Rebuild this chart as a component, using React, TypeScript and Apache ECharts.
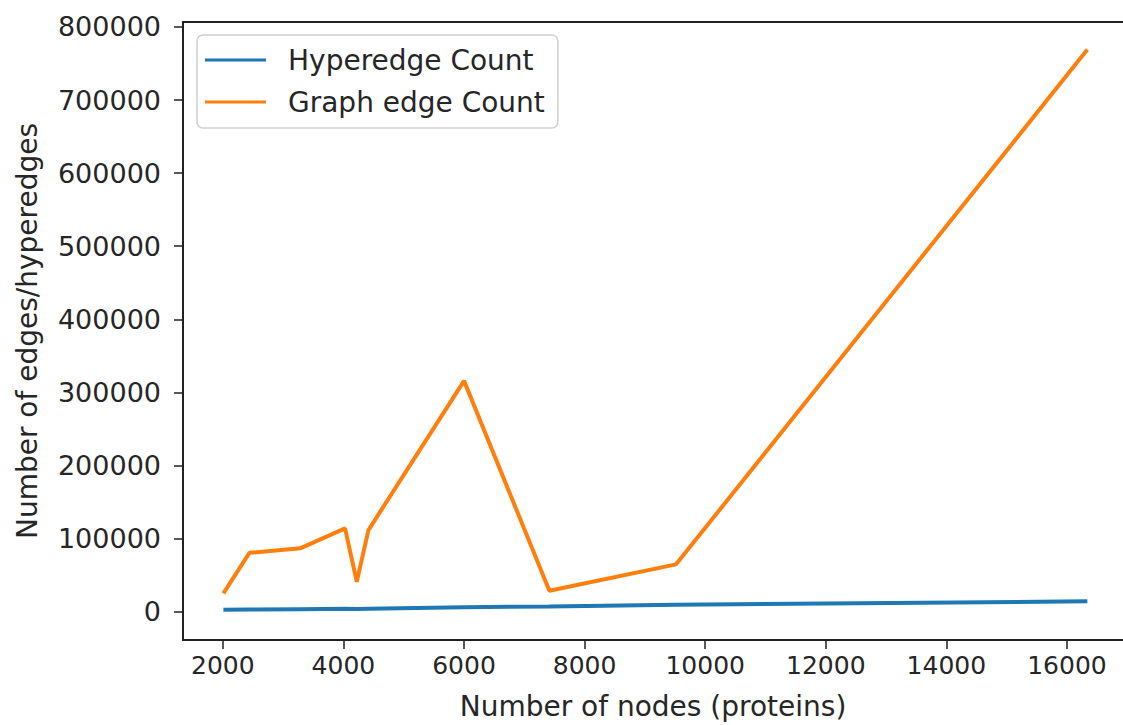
import React, { useEffect, useRef } from "react";
import * as echarts from "echarts";

const nodeCounts = [2010, 2441, 3282, 4028, 4222, 4415, 6001, 7416, 9517, 16338];
const hyperedgeCounts = [2500, 2900, 3300, 3700, 3500, 4000, 6000, 7000, 9500, 14000];
const graphEdgeCounts = [25000, 80400, 86500, 113800, 40800, 111500, 315700, 28500, 64600, 769000];
const xTicks = [2000, 4000, 6000, 8000, 10000, 12000, 14000, 16000];
const yTicks = [0, 100000, 200000, 300000, 400000, 500000, 600000, 700000, 800000];

const FONT = "DejaVu Sans";
const TEXT = "#262626";

export default function App() {
  const ref = useRef<HTMLDivElement>(null);
  useEffect(() => {
    if (!ref.current) return;
    const chart = echarts.init(ref.current, undefined, { renderer: "svg" });
    const pair = (ys: number[]) => nodeCounts.map((x, i) => [x, ys[i]]);
    chart.setOption({
      animation: false,
      backgroundColor: "#ffffff",
      textStyle: { fontFamily: FONT, color: TEXT },
      grid: { left: 183, right: 0, top: 22, bottom: 85, outerBoundsMode: "none", containLabel: false },
      legend: {
        orient: "vertical",
        left: 197,
        top: 35,
        padding: [11, 13, 12, 8],
        itemGap: 14,
        itemWidth: 61,
        itemHeight: 3,
        icon: "rect",
        backgroundColor: "rgba(255,255,255,0.8)",
        borderColor: "#d0d0d0",
        borderWidth: 1.5,
        borderRadius: 6,
        textStyle: { fontFamily: FONT, fontSize: 28, color: TEXT, padding: [0, 0, 0, 17] },
        data: ["Hyperedge Count", "Graph edge Count"],
      },
      xAxis: [
        {
          type: "value",
          min: 1340,
          max: 16929,
          name: "Number of nodes (proteins)",
          nameLocation: "middle",
          nameGap: 52,
          nameTextStyle: { fontFamily: FONT, fontSize: 28, color: TEXT },
          axisLine: { show: true, onZero: false, lineStyle: { color: "#222", width: 2 } },
          axisTick: { show: true, inside: false, length: 9, lineStyle: { color: "#222", width: 1.5 }, customValues: xTicks },
          axisLabel: { fontFamily: FONT, fontSize: 25, color: TEXT, margin: 13, customValues: xTicks, formatter: (v: number) => String(v) },
          splitLine: { show: false },
        },
        {
          type: "value",
          position: "top",
          min: 1340,
          max: 16929,
          axisLine: { show: true, onZero: false, lineStyle: { color: "#222", width: 2 } },
          axisTick: { show: false },
          axisLabel: { show: false },
          splitLine: { show: false },
        },
      ],
      yAxis: {
        type: "value",
        min: -38900,
        max: 806800,
        name: "Number of edges/hyperedges",
        nameLocation: "middle",
        nameGap: 142,
        nameTextStyle: { fontFamily: FONT, fontSize: 28, color: TEXT },
        axisLine: { show: true, onZero: false, lineStyle: { color: "#222", width: 2 } },
        axisTick: { show: true, inside: false, length: 9, lineStyle: { color: "#222", width: 1.5 }, customValues: yTicks },
        axisLabel: { fontFamily: FONT, fontSize: 27, color: TEXT, margin: 22, customValues: yTicks, formatter: (v: number) => String(v) },
        splitLine: { show: false },
      },
      series: [
        {
          name: "Hyperedge Count",
          type: "line",
          data: pair(hyperedgeCounts),
          showSymbol: false,
          symbol: "none",
          color: "#1f77b4",
          lineStyle: { color: "#1f77b4", width: 4 },
        },
        {
          name: "Graph edge Count",
          type: "line",
          data: pair(graphEdgeCounts),
          showSymbol: false,
          symbol: "none",
          color: "#ff7f0e",
          lineStyle: { color: "#ff7f0e", width: 4 },
        },
      ],
    });
    return () => chart.dispose();
  }, []);
  return (
    <div
      ref={ref}
      style={{ position: "fixed", left: 0, top: 0, width: 1123, height: 725, background: "#fff" }}
    />
  );
}
